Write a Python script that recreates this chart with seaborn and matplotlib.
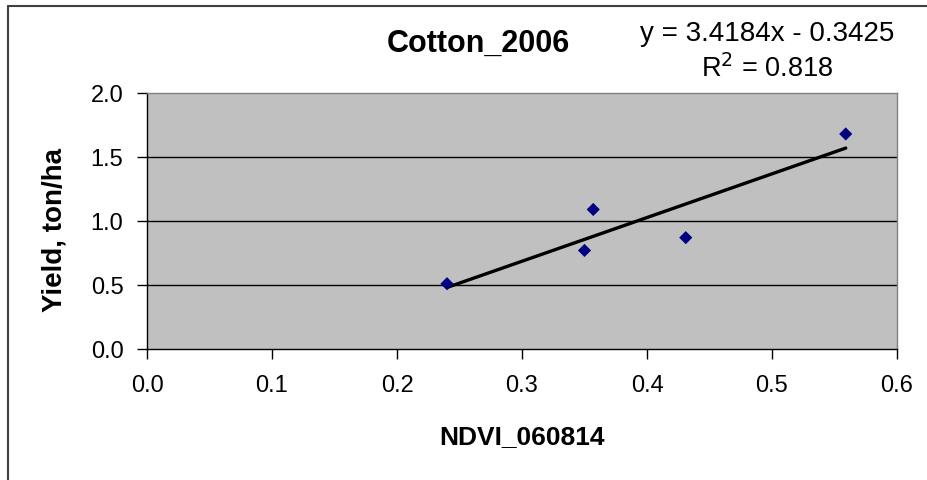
import numpy as np
import pandas as pd
import matplotlib
matplotlib.use("Agg")
import matplotlib.pyplot as plt
import seaborn as sns
from matplotlib.lines import Line2D

# Dữ liệu
ndvi = [0.24, 0.350, 0.357, 0.431, 0.559]
yield_ha = [0.51, 0.77, 1.09, 0.87, 1.68]
x_ticks = [0.0, 0.1, 0.2, 0.3, 0.4, 0.5, 0.6]
y_ticks = [0.0, 0.5, 1.0, 1.5, 2.0]

data = pd.DataFrame({'NDVI_060814': ndvi, 'Yield': yield_ha})

sns.set_style('ticks')
plt.rcParams['font.family'] = ['Liberation Sans', 'DejaVu Sans']
plt.rcParams['text.color'] = 'black'
plt.rcParams['axes.labelcolor'] = 'black'
plt.rcParams['xtick.color'] = 'black'
plt.rcParams['ytick.color'] = 'black'

fig = plt.figure(figsize=(9.27, 4.8), dpi=100)
ax = fig.add_axes([147 / 927, 1 - 349 / 480, 750 / 927, 256 / 480])
ax.set_facecolor('#c0c0c0')

# đường xu hướng + điểm
sns.regplot(x='NDVI_060814', y='Yield', data=data, ci=None, ax=ax, truncate=True,
            marker='D', color='#000080',
            scatter_kws=dict(s=45, alpha=1, edgecolor='none', zorder=4),
            line_kws=dict(color='black', lw=2.4, zorder=3))

ax.set_xlim(0, 0.6)
ax.set_ylim(0, 2.0)
ax.set_xticks(x_ticks)
ax.set_yticks(y_ticks)
ax.set_xticklabels([f'{v:.1f}' for v in x_ticks])
ax.set_yticklabels([f'{v:.1f}' for v in y_ticks])
for v in y_ticks[1:-1]:
    ax.axhline(v, color='black', lw=1.0, zorder=1)

ax.tick_params(axis='both', direction='out', length=7, width=1, labelsize=17,
               bottom=True, left=True)
ax.tick_params(axis='y', pad=10)
ax.tick_params(axis='x', pad=12)
for s in ['top', 'right']:
    ax.spines[s].set_visible(True)
    ax.spines[s].set_color('#808080')
    ax.spines[s].set_linewidth(1)
for s in ['left', 'bottom']:
    ax.spines[s].set_color('black')
    ax.spines[s].set_linewidth(1)

ax.set_xlabel('NDVI_060814', fontsize=19, fontweight='bold', va='center')
ax.set_ylabel('Yield, ton/ha', fontsize=20, fontweight='bold', va='center')
ax.xaxis.set_label_coords(0.5, (349 - 437) / 256)
ax.yaxis.set_label_coords((55 - 147) / 750, (349 - 230) / 256)

fig.text(478 / 927, 1 - 44 / 480, 'Cotton_2006', fontsize=22, fontweight='bold',
         ha='center', va='center')
fig.text(767 / 927, 1 - 34 / 480, 'y = 3.4184x - 0.3425', fontsize=20, ha='center', va='center')
fig.text(767 / 927, 1 - 69 / 480, 'R$^2$ = 0.818', fontsize=19.5, ha='center', va='center')

# khung biểu đồ
fig.add_artist(Line2D([8 / 927, 8 / 927], [0, 1 - 6 / 480], color='#404040', lw=1.5))
fig.add_artist(Line2D([8 / 927, 1], [1 - 6 / 480, 1 - 6 / 480], color='#404040', lw=1.5))

fig.savefig('out.png', dpi=100)
